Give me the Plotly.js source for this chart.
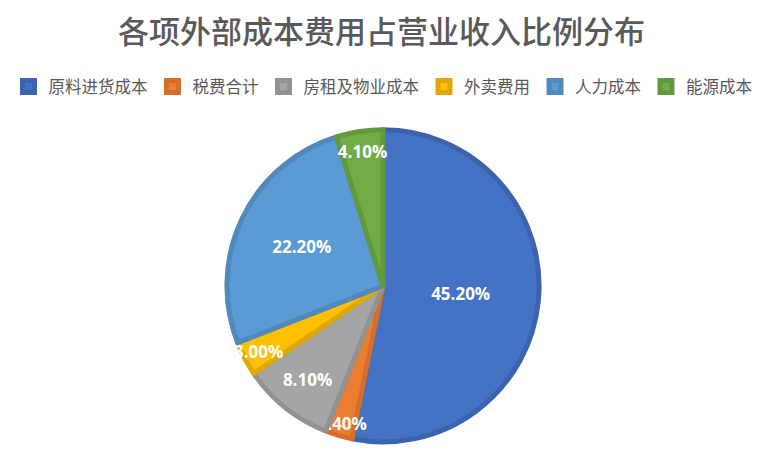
<!DOCTYPE html>
<html>
<head>
<meta charset="utf-8">
<script src="https://cdn.plot.ly/plotly-3.0.1.min.js"></script>
<style>
  html, body { margin: 0; padding: 0; background: #fff; }
  #chart { width: 766px; height: 457px; }
</style>
</head>
<body>
<div id="chart"></div>
<script>
// 各项外部成本费用占营业收入比例（%）
const categories = ['原料进货成本', '税费合计', '房租及物业成本', '外卖费用', '人力成本', '能源成本'];
const shares     = [45.2, 2.4, 8.1, 3.0, 22.2, 4.1];

const FILL_COLORS = ['#4472C4', '#ED7D31', '#A5A5A5', '#FFC000', '#5B9BD5', '#70AD47'];
const EDGE_COLORS = ['#3C64AD', '#D46F2B', '#929292', '#E0A900', '#5089BC', '#63993E'];

const CJK = '"Noto Sans CJK SC", "Noto Sans", sans-serif';

const trace = {
  type: 'pie',
  labels: categories,
  values: shares,
  sort: false,
  direction: 'clockwise',
  rotation: 0,
  marker: {
    colors: FILL_COLORS,
    line: { color: EDGE_COLORS, width: 5 },
  },
  texttemplate: '%{value:.2f}%',
  textposition: 'inside',
  insidetextorientation: 'horizontal',
  textfont: { family: '"Open Sans", sans-serif', size: 17, color: '#FFFFFF', weight: 'bold' },
  domain: { x: [0, 1], y: [0.033, 0.716] },
  hoverinfo: 'label+value',
};

const layout = {
  width: 766,
  height: 457,
  paper_bgcolor: '#FFFFFF',
  margin: { l: 0, r: 0, t: 0, b: 0 },
  title: {
    text: '各项外部成本费用占营业收入比例分布',
    font: { family: CJK, size: 31, color: '#595959', weight: 500 },
    x: 0.498, xanchor: 'center',
    y: 0.929, yanchor: 'middle',
  },
  showlegend: true,
  legend: {
    orientation: 'h',
    x: 0.5, xanchor: 'center',
    y: 0.81, yanchor: 'middle',
    font: { family: CJK, size: 16.5, color: '#595959' },
    itemwidth: 30,
    traceorder: 'normal',
  },
  uniformtext: { mode: 'show', minsize: 17 },
};

Plotly.newPlot('chart', [trace], layout, { displayModeBar: false, responsive: false });
</script>
</body>
</html>
